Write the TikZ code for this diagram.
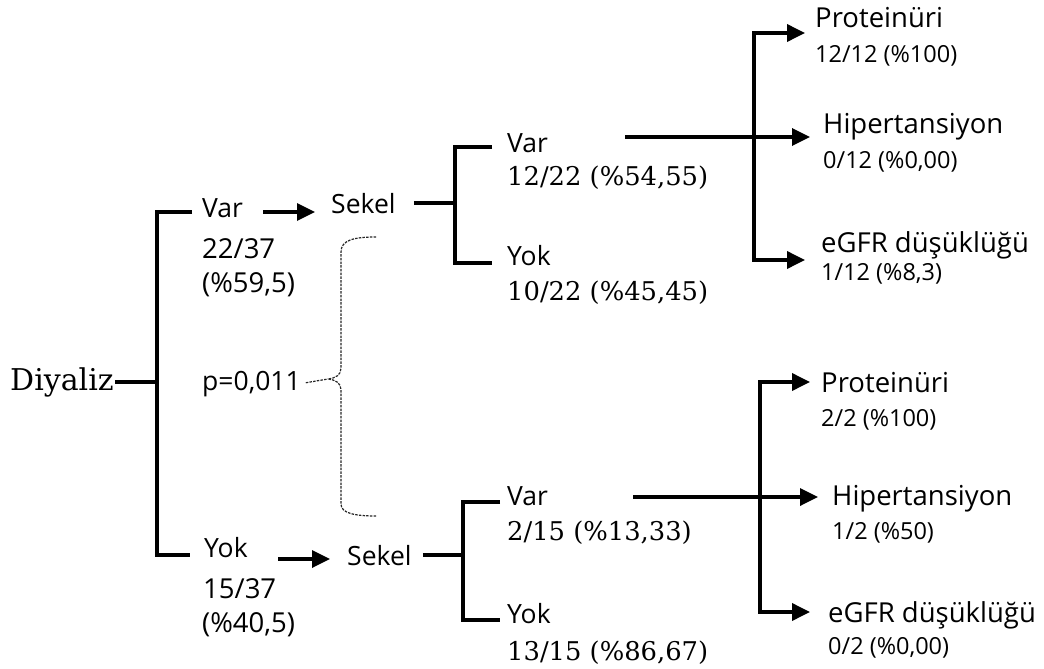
\documentclass[tikz,border=0pt]{standalone}
\usepackage{fontspec}
\setmainfont{DejaVu Serif}
\setsansfont{Open Sans}
\usetikzlibrary{arrows.meta}
\tikzstyle{choice} = [
    inner sep=0pt,
    anchor=base west,
    font=\sffamily\fontsize{26.5}{30}\selectfont
]
\tikzstyle{ratio} = [
    inner sep=0pt,
    anchor=base west,
    font=\sffamily\fontsize{27.5}{32}\selectfont
]
\tikzstyle{outcome} = [
    inner sep=0pt,
    anchor=base west,
    font=\sffamily\fontsize{27.5}{32}\selectfont
]
\tikzstyle{small} = [
    inner sep=0pt,
    anchor=base west,
    font=\sffamily\fontsize{23.5}{27}\selectfont
]
\tikzstyle{serif} = [
    inner sep=0pt,
    anchor=base west,
    font=\rmfamily\fontsize{25.8}{30}\selectfont
]
\tikzstyle{branch} = [line width=4.2pt]
\tikzstyle{arrow} = [line width=3.4pt, -{Triangle[length=18pt,width=17pt]}]
\tikzstyle{twoway} = [line width=3.6pt, {Triangle[length=18pt,width=17pt]}-{Triangle[length=18pt,width=17pt]}]
\tikzstyle{brace} = [dash pattern=on 2.5pt off 1.2pt, line width=1.2pt, black!85]

\begin{document}
\begin{tikzpicture}[x=1pt, y=-1pt]
    \useasboundingbox (0,0) rectangle (1044,669);

    % root
    \node (diyaliz) [inner sep=1pt, anchor=west, font=\rmfamily\fontsize{30}{34}\selectfont] at (9,382) {Diyaliz};
    \coordinate (dj) at (157,382);
    \coordinate (dtop) at (192,212);
    \coordinate (dbot) at (190,555);
    \draw [branch] (diyaliz.east) -- (dj);
    \draw [branch] (dtop) -- (dtop -| dj) -- (dbot -| dj) -- (dbot);

    % first level
    \node (var) [choice] at (202,217) {Var};
    \node (varn) [ratio] at (202,258) {22/37};
    \node (varp) [ratio] at (202,292) {(\%59,5)};
    \node (yok) [choice] at (204,557) {Yok};
    \node (yokn) [ratio] at (203,598) {15/37};
    \node (yokp) [ratio] at (202,632) {(\%40,5)};

    \node (sekelA) [choice] at (331,213) {Sekel};
    \node (sekelB) [choice] at (347,565) {Sekel};
    \coordinate (aA) at (263,212);
    \coordinate (aAe) at (315,212);
    \coordinate (aB) at (278,559);
    \coordinate (aBe) at (330,559);
    \draw [arrow] (aA) -- (aAe);
    \draw [arrow] (aB) -- (aBe);

    % p value
    \node (pval) [choice] at (202,390) {p=0,011};
    \coordinate (btop) at (376,237);
    \coordinate (btip) at (328,379);
    \coordinate (bbot) at (376,516);
    \draw [brace] (btop) .. controls (354,237) and (341,240) .. (341,252)
        -- (341,368) .. controls (341,375) and (336,378) .. (btip)
        .. controls (336,380) and (341,383) .. (341,390)
        -- (341,504) .. controls (341,513) and (354,516) .. (bbot);
    \draw [brace, shorten <=5pt] (pval.east) -- (btip);

    % second level, upper
    \coordinate (sA) at (455,207);
    \coordinate (sAt) at (492,147);
    \coordinate (sAb) at (492,263);
    \draw [branch, shorten <=18pt] (sekelA.east) -- (sekelA.east -| sA);
    \draw [branch] (sAt) -- (sAt -| sA) -- (sAb -| sA) -- (sAb);
    \node (varA) [choice] at (507,152) {Var};
    \node (varAn) [serif] at (507,185) {12/22 (\%54,55)};
    \node (yokA) [choice] at (507,265) {Yok};
    \node (yokAn) [serif] at (507,300) {10/22 (\%45,45)};

    % second level, lower
    \coordinate (sB) at (463,562);
    \coordinate (sBt) at (500,502);
    \coordinate (sBb) at (500,620);
    \draw [branch, shorten <=11pt] (sekelB.east) -- (sekelB.east -| sB);
    \draw [branch] (sBt) -- (sBt -| sB) -- (sBb -| sB) -- (sBb);
    \node (varB) [choice] at (507,505) {Var};
    \node (varBn) [serif] at (507,540) {2/15 (\%13,33)};
    \node (yokB) [choice] at (507,623) {Yok};
    \node (yokBn) [serif] at (507,660) {13/15 (\%86,67)};

    % outcomes, upper
    \node (protA) [outcome] at (815,28) {Proteinüri};
    \node (protAn) [small] at (815,63) {12/12 (\%100)};
    \node (hipA) [outcome] at (823,133) {Hipertansiyon};
    \node (hipAn) [small] at (823,168) {0/12 (\%0,00)};
    \node (egfrA) [outcome] at (821,252) {eGFR düşüklüğü};
    \node (egfrAn) [small] at (821,280) {1/12 (\%8,3)};
    \coordinate (rA) at (625,137);
    \coordinate (rAe) at (810,137);
    \coordinate (vA) at (754,137);
    \coordinate (pA) at (805,33);
    \coordinate (gA) at (805,260);
    \draw [arrow] (rA) -- (rAe);
    \draw [twoway] (pA) -- (pA -| vA) -- (gA -| vA) -- (gA);

    % outcomes, lower
    \node (protB) [outcome] at (821,392) {Proteinüri};
    \node (protBn) [small] at (821,426) {2/2 (\%100)};
    \node (hipB) [outcome] at (832,505) {Hipertansiyon};
    \node (hipBn) [small] at (832,539) {1/2 (\%50)};
    \node (egfrB) [outcome] at (828,622) {eGFR düşüklüğü};
    \node (egfrBn) [small] at (828,654) {0/2 (\%0,00)};
    \coordinate (rB) at (633,497);
    \coordinate (rBe) at (818,497);
    \coordinate (vB) at (760,497);
    \coordinate (pB) at (810,382);
    \coordinate (gB) at (810,612);
    \draw [arrow] (rB) -- (rBe);
    \draw [twoway] (pB) -- (pB -| vB) -- (gB -| vB) -- (gB);
\end{tikzpicture}
\end{document}
